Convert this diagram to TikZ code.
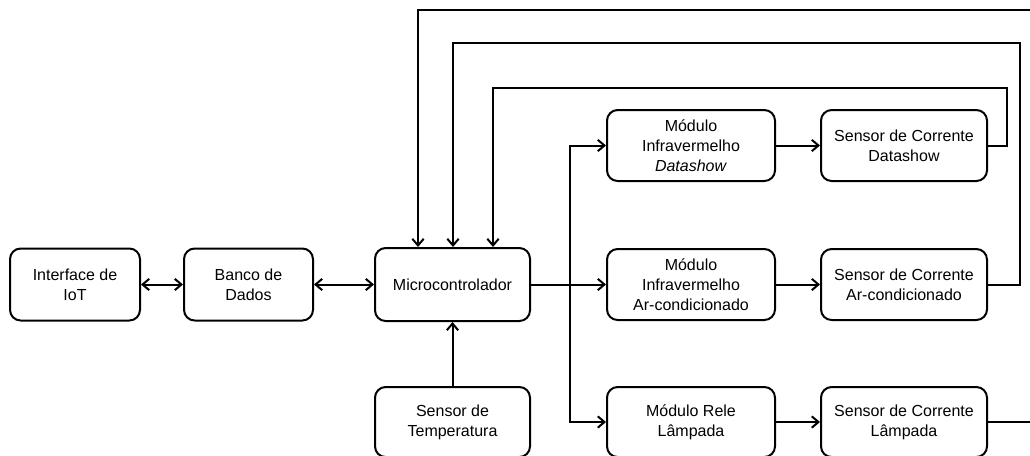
\documentclass[tikz,border=0pt]{standalone}
\usepackage{fontspec}
\setmainfont{Liberation Sans}
\usetikzlibrary{arrows.meta}
\begin{document}
\begin{tikzpicture}[x=0.75pt,y=-0.75pt,
  blk/.style={draw,line width=1.5pt,rounded corners=8pt,align=center,
    inner sep=0pt,font=\fontsize{12pt}{15pt}\selectfont},
  wire/.style={line width=1.5pt},
  arr/.style={wire,-{Straight Barb[length=5pt,width=8.5pt]}},
  darr/.style={wire,{Straight Barb[length=5pt,width=8.5pt]}-{Straight Barb[length=5pt,width=8.5pt]}}]
\useasboundingbox (0,0) rectangle (1030,455);

% blocks
\node[blk,minimum width=97.5pt,minimum height=54pt] (iot) at (75,284.5) {Interface de\\IoT};
\node[blk,minimum width=96.75pt,minimum height=54pt] (bd) at (248.5,284.5) {Banco de\\Dados};
\node[blk,minimum width=116.25pt,minimum height=54.75pt] (mc) at (452.5,284.5) {Microcontrolador};
\node[blk,minimum width=116.25pt,minimum height=52.5pt] (st) at (452.5,422) {Sensor de\\Temperatura};

\node[blk,minimum width=126pt,minimum height=53.25pt] (ird) at (691,145.5) {Módulo\\Infravermelho\\\textit{Datashow}};
\node[blk,minimum width=124.5pt,minimum height=53.25pt] (scd) at (904,145.5) {Sensor de Corrente\\Datashow};
\node[blk,minimum width=126pt,minimum height=53.25pt] (irac) at (691,284.5) {Módulo\\Infravermelho\\Ar-condicionado};
\node[blk,minimum width=124.5pt,minimum height=53.25pt] (scac) at (904,284.5) {Sensor de Corrente\\Ar-condicionado};
\node[blk,minimum width=126pt,minimum height=52.5pt] (rl) at (691,422) {Módulo Rele\\Lâmpada};
\node[blk,minimum width=124.5pt,minimum height=52.5pt] (scl) at (904,422) {Sensor de Corrente\\Lâmpada};

% routing points
\coordinate (bus) at (570,284.5);
\coordinate (r1) at (1007,88);
\coordinate (r2) at (1020,43);
\coordinate (r3) at (1040,10);
\coordinate (k1) at (493,0);
\coordinate (k2) at (453,0);
\coordinate (k3) at (418,0);

% data links
\draw[darr] (iot) -- (bd);
\draw[darr] (bd) -- (mc);
\draw[arr] (st) -- (mc);

% outputs of the microcontroller
\draw[wire] (mc.east) -- (bus);
\draw[arr] (bus) |- (ird.west);
\draw[arr] (bus) -- (irac.west);
\draw[arr] (bus) |- (rl.west);

\draw[arr] (ird) -- (scd);
\draw[arr] (irac) -- (scac);
\draw[arr] (rl) -- (scl);

% current feedback to the microcontroller
\draw[arr] (scd.east) -| (r1) -| (k1 |- mc.north);
\draw[arr] (scac.east) -| (r2) -| (k2 |- mc.north);
\draw[arr] (scl.east) -| (r3) -| (k3 |- mc.north);
\end{tikzpicture}
\end{document}
